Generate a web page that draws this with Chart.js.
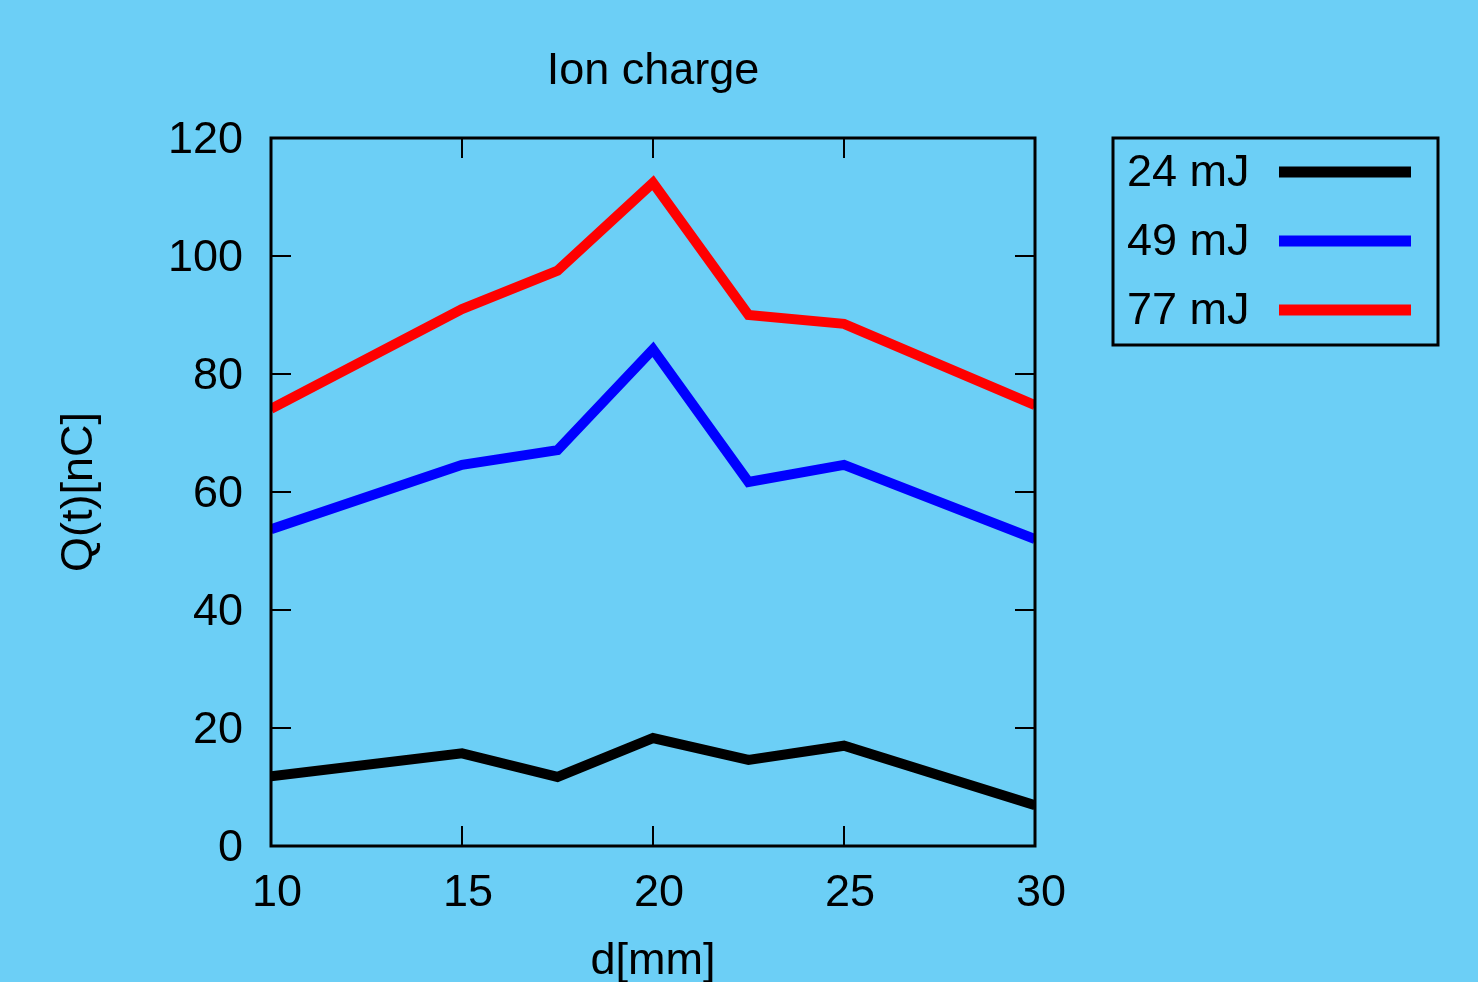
<!DOCTYPE html>
<html>
<head>
<meta charset="utf-8">
<script src="https://cdn.jsdelivr.net/npm/chart.js@4"></script>
<style>
  html, body { margin: 0; padding: 0; background: #6ccff6; }
  #wrap { width: 1478px; height: 982px; }
</style>
</head>
<body>
<div id="wrap"><canvas id="ionChart" width="1478" height="982"></canvas></div>
<script>
const distances = [10, 15, 17.5, 20, 22.5, 25, 30];
const q24 = [11.8, 15.7, 11.7, 18.3, 14.6, 17.0, 6.9];
const q49 = [53.7, 64.6, 67.1, 84.2, 61.7, 64.6, 52.0];
const q77 = [74.1, 91.0, 97.5, 112.4, 90.0, 88.5, 74.7];
const seriesLabels = ["24 mJ", "49 mJ", "77 mJ"];
const seriesColors = ["#000000", "#0000ff", "#ff0000"];
const xTickValues = [10, 15, 20, 25, 30];
const yTickValues = [0, 20, 40, 60, 80, 100, 120];

const FONT = "'Liberation Sans', Arial, sans-serif";

const toPoints = vals => vals.map((v, i) => ({ x: distances[i], y: v }));

// gnuplot style frame: full box, inward ticks on all sides, title, legend box
const gnuplotFrame = {
  id: "gnuplotFrame",
  afterDraw(chart) {
    const { ctx, chartArea: a, scales } = chart;
    ctx.save();
    ctx.strokeStyle = "#000";
    ctx.lineWidth = 2;
    ctx.beginPath();
    xTickValues.forEach(v => {
      const px = scales.x.getPixelForValue(v);
      ctx.moveTo(px, a.bottom); ctx.lineTo(px, a.bottom - 20);
      ctx.moveTo(px, a.top); ctx.lineTo(px, a.top + 20);
    });
    yTickValues.forEach(v => {
      const py = scales.y.getPixelForValue(v);
      ctx.moveTo(a.left, py); ctx.lineTo(a.left + 20, py);
      ctx.moveTo(a.right, py); ctx.lineTo(a.right - 20, py);
    });
    ctx.stroke();
    ctx.lineWidth = 3;
    ctx.strokeRect(a.left, a.top, a.right - a.left, a.bottom - a.top);

    // title
    ctx.fillStyle = "#000";
    ctx.font = "45px " + FONT;
    ctx.textAlign = "center";
    ctx.textBaseline = "middle";
    ctx.fillText("Ion charge", (a.left + a.right) / 2, 72);

    // legend
    ctx.lineWidth = 3;
    ctx.strokeRect(1113, 138, 325, 207);
    ctx.textAlign = "left";
    chart.data.datasets.forEach((ds, i) => {
      const y = 172 + i * 69;
      ctx.fillStyle = "#000";
      ctx.fillText(ds.label, 1127, y + 2);
      ctx.strokeStyle = ds.borderColor;
      ctx.lineWidth = 11;
      ctx.lineCap = "butt";
      ctx.beginPath();
      ctx.moveTo(1279, y);
      ctx.lineTo(1411, y);
      ctx.stroke();
    });
    ctx.restore();
  }
};

new Chart(document.getElementById("ionChart"), {
  type: "line",
  data: {
    datasets: [q24, q49, q77].map((vals, i) => ({
      label: seriesLabels[i],
      data: toPoints(vals),
      borderColor: seriesColors[i],
      borderWidth: 10,
      borderJoinStyle: "miter",
      pointRadius: 0,
      tension: 0,
      fill: false
    }))
  },
  options: {
    responsive: false,
    animation: false,
    layout: { padding: { top: 138, right: 443, left: 0, bottom: 0 } },
    plugins: {
      legend: { display: false },
      title: { display: false },
      tooltip: { enabled: false }
    },
    scales: {
      x: {
        type: "linear",
        min: 10,
        max: 30,
        afterFit: s => { s.height = 136; },
        afterBuildTicks: s => { s.ticks = xTickValues.map(v => ({ value: v })); },
        grid: { display: false, drawTicks: false },
        border: { display: false },
        ticks: { color: "#000", font: { family: FONT, size: 45 }, padding: 21, labelOffset: 6, maxRotation: 0 },
        title: {
          display: true,
          text: "d[mm]",
          color: "#000",
          font: { family: FONT, size: 45 },
          padding: { top: 0, bottom: -7 }
        }
      },
      y: {
        min: 0,
        max: 120,
        afterFit: s => { s.width = 271; },
        afterBuildTicks: s => { s.ticks = yTickValues.map(v => ({ value: v })); },
        grid: { display: false, drawTicks: false },
        border: { display: false },
        ticks: { color: "#000", font: { family: FONT, size: 45 }, padding: 28, labelOffset: 3 },
        title: {
          display: true,
          text: "Q(t)[nC]",
          color: "#000",
          font: { family: FONT, size: 45 },
          padding: { top: 53, bottom: 0 }
        }
      }
    }
  },
  plugins: [gnuplotFrame]
});
</script>
</body>
</html>
